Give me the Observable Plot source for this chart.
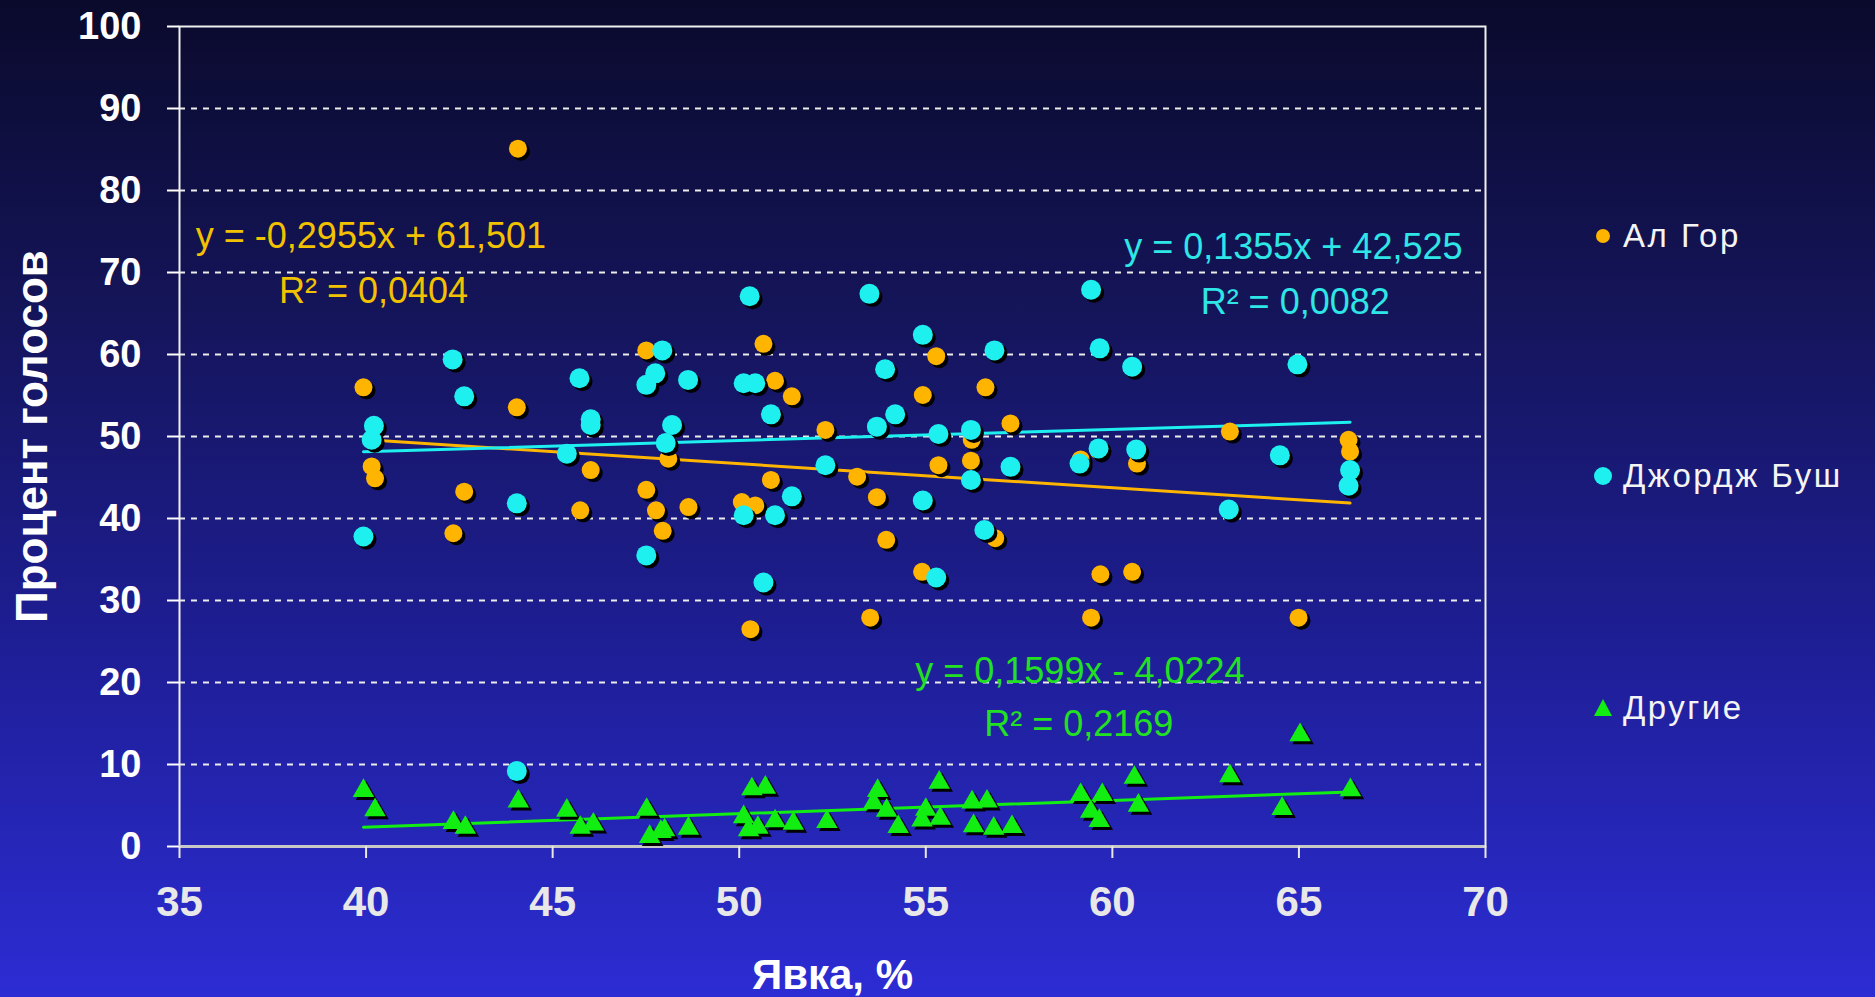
<!DOCTYPE html>
<html><head><meta charset="utf-8">
<script src="https://cdn.jsdelivr.net/npm/d3@7"></script>
<script src="https://cdn.jsdelivr.net/npm/@observablehq/plot@0.6"></script>
<style>
html,body{margin:0;padding:0;width:1875px;height:997px;overflow:hidden;}
body{background:linear-gradient(to bottom,#0a0a2c 0%,#141458 30%,#1e1e96 65%,#2c2cd4 100%);position:relative;font-family:"Liberation Sans",Arial,sans-serif;}
#chart{position:absolute;left:0;top:0;}
.lg{position:absolute;left:1593px;display:flex;align-items:center;color:#f4f4f4;font-size:33px;letter-spacing:2.5px;white-space:nowrap;}
.lg svg{margin-right:10px;overflow:visible;}
</style></head><body>
<div id="chart"></div>
<div id="legend"></div>
<script>
// Series names
const seriesNames = ["Ал Гор", "Джордж Буш", "Другие"];
const seriesColors = ["#ffb400", "#1ef0f0", "#12ee12"];
const textColors = ["#f2c200", "#2ee6e6", "#22e022"];

// Al Gore: turnout (%) and vote share (%)
const goreX = [39.93,40.15,40.24,42.34,42.63,44.04,44.07,45.74,46.02,47.51,47.51,47.77,47.95,48.1,48.64,50.07,50.3,50.43,50.65,50.85,50.96,51.41,52.31,53.16,53.51,53.69,53.94,54.9,54.92,55.28,55.34,56.21,56.23,56.6,56.86,57.27,59.15,59.43,59.63,59.68,60.53,60.66,63.15,64.49,64.99,66.33,66.37];
const goreY = [56.0,46.35,44.9,38.2,43.27,53.56,85.1,41.0,45.9,60.5,43.5,41.0,38.5,47.3,41.4,42.0,26.5,41.6,61.3,44.7,56.8,54.9,50.8,45.1,27.9,42.6,37.4,33.5,55.06,59.8,46.5,47.05,49.6,56.0,37.6,51.6,47.2,27.9,48.3,33.2,33.5,46.7,50.6,47.7,27.9,49.6,48.15];

// George Bush
const bushX = [39.93,40.15,40.21,42.32,42.63,44.04,44.04,45.38,45.72,46.02,46.02,47.51,47.51,47.75,47.94,48.03,48.2,48.63,50.12,50.12,50.28,50.43,50.65,50.85,50.96,51.41,52.31,53.49,53.69,53.91,54.18,54.92,54.92,55.28,55.34,56.21,56.21,56.57,56.84,57.27,59.12,59.43,59.63,59.66,60.53,60.64,63.12,64.49,64.96,66.33,66.37];
const bushY = [37.8,49.6,51.3,59.4,54.9,41.85,9.2,47.9,57.1,52.1,51.4,56.3,35.5,57.7,60.5,49.2,51.4,56.9,56.5,40.4,67.1,56.5,32.2,52.7,40.4,42.7,46.5,67.4,51.2,58.2,52.7,62.4,42.2,32.8,50.3,50.8,44.7,38.6,60.5,46.3,46.7,67.9,48.55,60.75,58.5,48.4,41.1,47.7,58.8,44.0,45.9];

// Others
const otherX = [39.93,40.24,42.34,42.66,44.08,45.38,45.74,46.09,47.52,47.6,47.9,48.0,48.64,50.12,50.25,50.34,50.5,50.7,50.96,51.45,52.35,53.6,53.71,53.95,54.26,54.9,55.0,55.36,55.39,56.24,56.28,56.64,56.82,57.31,59.15,59.42,59.65,59.73,60.59,60.7,63.15,64.55,65.03,66.38];
const otherY = [6.8,4.45,2.9,2.3,5.5,4.4,2.3,2.7,4.5,1.2,1.8,2.0,2.2,3.6,2.0,7.0,2.3,7.2,3.1,2.8,3.0,5.3,6.8,4.4,2.4,3.2,4.5,7.8,3.4,5.4,2.5,5.5,2.2,2.4,6.3,4.25,3.15,6.3,8.4,5.0,8.6,4.6,13.6,6.9];

// Trend-line labels (as printed on the chart)
const eqLabels = ["y = -0,2955x + 61,501", "y = 0,1355x + 42,525", "y = 0,1599x - 4,0224"];
const r2Labels = ["R² = 0,0404", "R² = 0,0082", "R² = 0,2169"];

// Axes
const xTicks = [35,40,45,50,55,60,65,70];
const yTicks = [0,10,20,30,40,50,60,70,80,90,100];
const gridTicks = [10,20,30,40,50,60,70,80,90];
const xTitle = "Явка, %";
const yTitle = "Процент голосов";

const zip = (xs, ys) => xs.map((x, i) => ({x, y: ys[i]}));
const gore = zip(goreX, goreY);
const bush = zip(bushX, bushY);
const other = zip(otherX, otherY);

const FONT = "Liberation Sans, Arial, sans-serif";

const chart = Plot.plot({
  width: 1875,
  height: 997,
  marginLeft: 179,
  marginRight: 390,
  marginTop: 26,
  marginBottom: 151,
  style: {background: "transparent", color: "white", fontFamily: FONT, overflow: "visible"},
  x: {domain: [35, 70], axis: null},
  y: {domain: [0, 100], axis: null},
  marks: [
    Plot.gridY({ticks: gridTicks, stroke: "#ececec", strokeOpacity: 1, strokeWidth: 2, strokeDasharray: "6,6"}),
    Plot.frame({stroke: "#f0f0f0", strokeWidth: 2}),
    Plot.ruleY([0], {stroke: "#c8c8c8", strokeWidth: 3}),
    Plot.axisY({ticks: yTicks, tickSize: 12, tickPadding: 26, fontSize: 38, fontWeight: "bold", color: "white", strokeWidth: 2, label: null}),
    Plot.axisX({ticks: xTicks, tickSize: 12, tickPadding: 28, fontSize: 42, fontWeight: "bold", color: "#e8e8e8", strokeWidth: 2, label: null}),
    Plot.text([yTitle], {frameAnchor: "left", dx: -147, rotate: -90, textAnchor: "middle", lineAnchor: "middle", fontSize: 44, fontWeight: "bold", fill: "white"}),
    Plot.text([xTitle], {frameAnchor: "bottom", dy: 129, textAnchor: "middle", lineAnchor: "middle", fontSize: 42, fontWeight: "bold", fill: "white"}),
    // trend lines
    Plot.linearRegressionY(gore, {x: "x", y: "y", stroke: seriesColors[0], strokeWidth: 3, ci: 0}),
    Plot.linearRegressionY(bush, {x: "x", y: "y", stroke: seriesColors[1], strokeWidth: 3, ci: 0}),
    Plot.linearRegressionY(other, {x: "x", y: "y", stroke: seriesColors[2], strokeWidth: 3, ci: 0}),
    // points with shadows
    Plot.dot(gore, {x: "x", y: "y", r: 9, fill: "#000", dx: 3, dy: 3}),
    Plot.dot(gore, {x: "x", y: "y", r: 9, fill: seriesColors[0]}),
    Plot.dot(bush, {x: "x", y: "y", r: 10, fill: "#000", dx: 3, dy: 3}),
    Plot.dot(bush, {x: "x", y: "y", r: 10, fill: seriesColors[1]}),
    Plot.dot(other, {x: "x", y: "y", r: 8, symbol: "triangle", fill: "#000", dx: 3, dy: 3}),
    Plot.dot(other, {x: "x", y: "y", r: 8, symbol: "triangle", fill: seriesColors[2]}),
    // equation labels
    Plot.text([eqLabels[0]], {x: 40.13, y: 74.45, fill: textColors[0], fontSize: 36}),
    Plot.text([r2Labels[0]], {x: 40.2, y: 67.7, fill: textColors[0], fontSize: 36}),
    Plot.text([eqLabels[1]], {x: 64.85, y: 73.1, fill: textColors[1], fontSize: 36}),
    Plot.text([r2Labels[1]], {x: 64.9, y: 66.3, fill: textColors[1], fontSize: 36}),
    Plot.text([eqLabels[2]], {x: 59.13, y: 21.4, fill: textColors[2], fontSize: 36}),
    Plot.text([r2Labels[2]], {x: 59.1, y: 14.9, fill: textColors[2], fontSize: 36})
  ]
});
document.getElementById("chart").appendChild(chart);

// legend
const legendTops = [236, 476, 708];
const legend = document.getElementById("legend");
seriesNames.forEach((name, i) => {
  const div = document.createElement("div");
  div.className = "lg";
  div.style.top = (legendTops[i] - 20) + "px";
  div.style.height = "40px";
  let shape;
  if (i === 2) shape = `<svg width="20" height="20" viewBox="-10 -10 20 20"><path d="M0,-9L9,8L-9,8Z" fill="${seriesColors[i]}"/></svg>`;
  else shape = `<svg width="20" height="20" viewBox="-10 -10 20 20"><circle r="${i === 0 ? 7 : 9}" fill="${seriesColors[i]}"/></svg>`;
  div.innerHTML = shape + `<span>${name}</span>`;
  legend.appendChild(div);
});
</script></body></html>
